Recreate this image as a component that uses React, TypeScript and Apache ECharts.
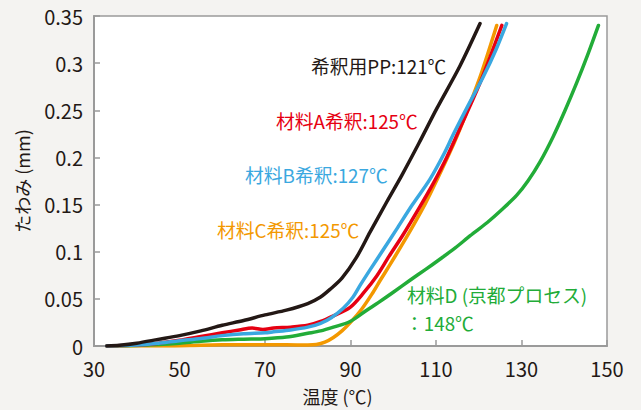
import React, { useEffect, useRef } from "react";
import * as echarts from "echarts";

const xTicks = { min: 30, max: 150, interval: 20 };
const yTicks = { min: 0, max: 0.35, interval: 0.05 };

const seriesNames = ["希釈用PP", "材料A希釈", "材料B希釈", "材料C希釈", "材料D (京都プロセス)"];

const ppData: number[][] = [
  [33, 0], [36, 0.0008], [40, 0.003], [45, 0.007], [50, 0.011], [55, 0.016], [60, 0.022],
  [65, 0.027], [70, 0.033], [75, 0.038], [80, 0.045], [83, 0.052], [85.2, 0.06], [88, 0.072],
  [91.4, 0.094], [94.6, 0.121], [98.5, 0.153], [102, 0.181], [106, 0.215], [110.2, 0.252],
  [115.6, 0.297], [120.3, 0.342],
];

const aData: number[][] = [
  [33, 0], [40, 0.001], [45, 0.003], [50, 0.006], [55, 0.01], [60, 0.014], [64, 0.017],
  [67, 0.019], [69.5, 0.0175], [72, 0.019], [76, 0.02], [80, 0.022], [83, 0.026],
  [86, 0.032], [89.9, 0.041], [93, 0.056], [96.1, 0.074], [99, 0.095], [102.3, 0.118],
  [106, 0.146], [109.3, 0.172], [112.5, 0.2], [115.6, 0.231], [120.3, 0.279], [125.4, 0.34],
];

const bData: number[][] = [
  [33, 0], [40, 0.001], [45, 0.003], [50, 0.0056], [55, 0.008], [60, 0.011], [65, 0.013],
  [70, 0.014], [72, 0.015], [76, 0.017], [80, 0.02], [83, 0.024], [85.5, 0.03], [88.3, 0.04],
  [90.6, 0.052], [92.2, 0.064], [94.6, 0.081], [97.5, 0.101], [100.8, 0.124], [104.5, 0.15],
  [108.6, 0.177], [112, 0.205], [114, 0.224], [117.5, 0.255], [121, 0.285], [124, 0.314],
  [126.5, 0.342],
];

const cData: number[][] = [
  [33, 0], [48, 0], [55, 0.0008], [60, 0.0012], [70, 0.0013], [75, 0.0012], [80, 0.001],
  [82, 0.0015], [84, 0.004], [86, 0.009], [88, 0.016], [90, 0.025], [92.6, 0.039], [95, 0.055],
  [97, 0.07], [99.2, 0.086], [102, 0.107], [104.7, 0.128], [107.5, 0.151], [110.2, 0.176],
  [114.2, 0.215], [117, 0.246], [120.5, 0.288], [124.2, 0.34],
];

const dData: number[][] = [
  [33, 0], [40, 0.0005], [45, 0.0015], [50, 0.003], [55, 0.005], [60, 0.0065], [65, 0.0072],
  [70, 0.0078], [75, 0.0095], [80, 0.0135], [83, 0.016], [86, 0.02], [89.9, 0.026],
  [93.8, 0.038], [96.5, 0.046], [100, 0.057], [104, 0.07], [107.5, 0.081], [110.9, 0.092],
  [114.5, 0.104], [118, 0.117], [122, 0.131], [125.5, 0.145], [128.9, 0.16], [131.5, 0.175],
  [134.3, 0.195], [137.4, 0.222], [140.2, 0.25], [142.9, 0.279], [145.5, 0.309], [148, 0.34],
];

const labelTexts = [
  "希釈用PP:121℃",
  "材料A希釈:125℃",
  "材料B希釈:127℃",
  "材料C希釈:125℃",
  "材料D (京都プロセス)",
  "：148℃",
];

const COLORS = {
  pp: "#231815",
  a: "#e60012",
  b: "#3aa8e0",
  c: "#f39800",
  d: "#22ac38",
};

const FONT = '"Noto Sans CJK JP", "Noto Sans", sans-serif';
const TEXT = "#231815";

export default function App() {
  const ref = useRef<HTMLDivElement>(null);

  useEffect(() => {
    if (!ref.current) return;
    const chart = echarts.init(ref.current, undefined, { renderer: "svg" });

    const mk = (name: string, data: number[][], color: string, z: number) => ({
      name,
      type: "line",
      data,
      smooth: 0.3,
      showSymbol: false,
      symbol: "none",
      z,
      lineStyle: { color, width: 3.5, cap: "round", join: "round" },
      itemStyle: { color },
    });

    const lbl = (text: string, x: number, y: number, color: string) => ({
      type: "text",
      x,
      y,
      style: {
        text,
        fill: color,
        fontSize: 18.8,
        fontFamily: FONT,
        align: "left",
        verticalAlign: "middle",
      },
      z: 100,
    });

    chart.setOption({
      animation: false,
      backgroundColor: "#f4f3f1",
      textStyle: { fontFamily: FONT },
      grid: {
        left: 94,
        top: 16,
        right: 34,
        bottom: 63,
        show: true,
        backgroundColor: "#ffffff",
        borderColor: "#9a9a9a",
        borderWidth: 1.5,
      },
      xAxis: {
        type: "value",
        min: xTicks.min,
        max: xTicks.max,
        interval: xTicks.interval,
        name: "温度 (℃)",
        nameLocation: "middle",
        nameGap: 41,
        nameTextStyle: { color: TEXT, fontSize: 18, fontFamily: FONT, padding: [0, 26, 0, 0] },
        axisLine: { show: true, lineStyle: { color: "#9a9a9a", width: 2 } },
        axisTick: { show: true, inside: true, length: 6, lineStyle: { color: "#9a9a9a", width: 1.5 } },
        axisLabel: { color: TEXT, fontSize: 20, margin: 12, fontFamily: FONT },
        splitLine: { show: false },
      },
      yAxis: {
        type: "value",
        min: yTicks.min,
        max: yTicks.max,
        interval: yTicks.interval,
        name: "たわみ (mm)",
        nameLocation: "middle",
        nameGap: 63,
        nameTextStyle: { color: TEXT, fontSize: 18, fontFamily: FONT },
        axisLine: { show: true, lineStyle: { color: "#9a9a9a", width: 2 } },
        axisTick: { show: true, inside: true, length: 6, lineStyle: { color: "#9a9a9a", width: 1.5 } },
        axisLabel: { color: TEXT, fontSize: 20, margin: 11, fontFamily: FONT },
        splitLine: { show: false },
      },
      series: [
        mk(seriesNames[3], cData, COLORS.c, 2),
        mk(seriesNames[4], dData, COLORS.d, 3),
        mk(seriesNames[1], aData, COLORS.a, 4),
        mk(seriesNames[2], bData, COLORS.b, 5),
        mk(seriesNames[0], ppData, COLORS.pp, 6),
      ],
      graphic: [
        lbl(labelTexts[0], 311, 65, COLORS.pp),
        lbl(labelTexts[1], 276, 120, COLORS.a),
        lbl(labelTexts[2], 245, 174, COLORS.b),
        lbl(labelTexts[3], 217, 229, COLORS.c),
        lbl(labelTexts[4], 407, 294, COLORS.d),
        lbl(labelTexts[5], 405, 322, COLORS.d),
      ],
    });

    return () => chart.dispose();
  }, []);

  return (
    <div
      ref={ref}
      style={{ position: "fixed", left: 0, top: 0, width: 641, height: 410 }}
    />
  );
}
